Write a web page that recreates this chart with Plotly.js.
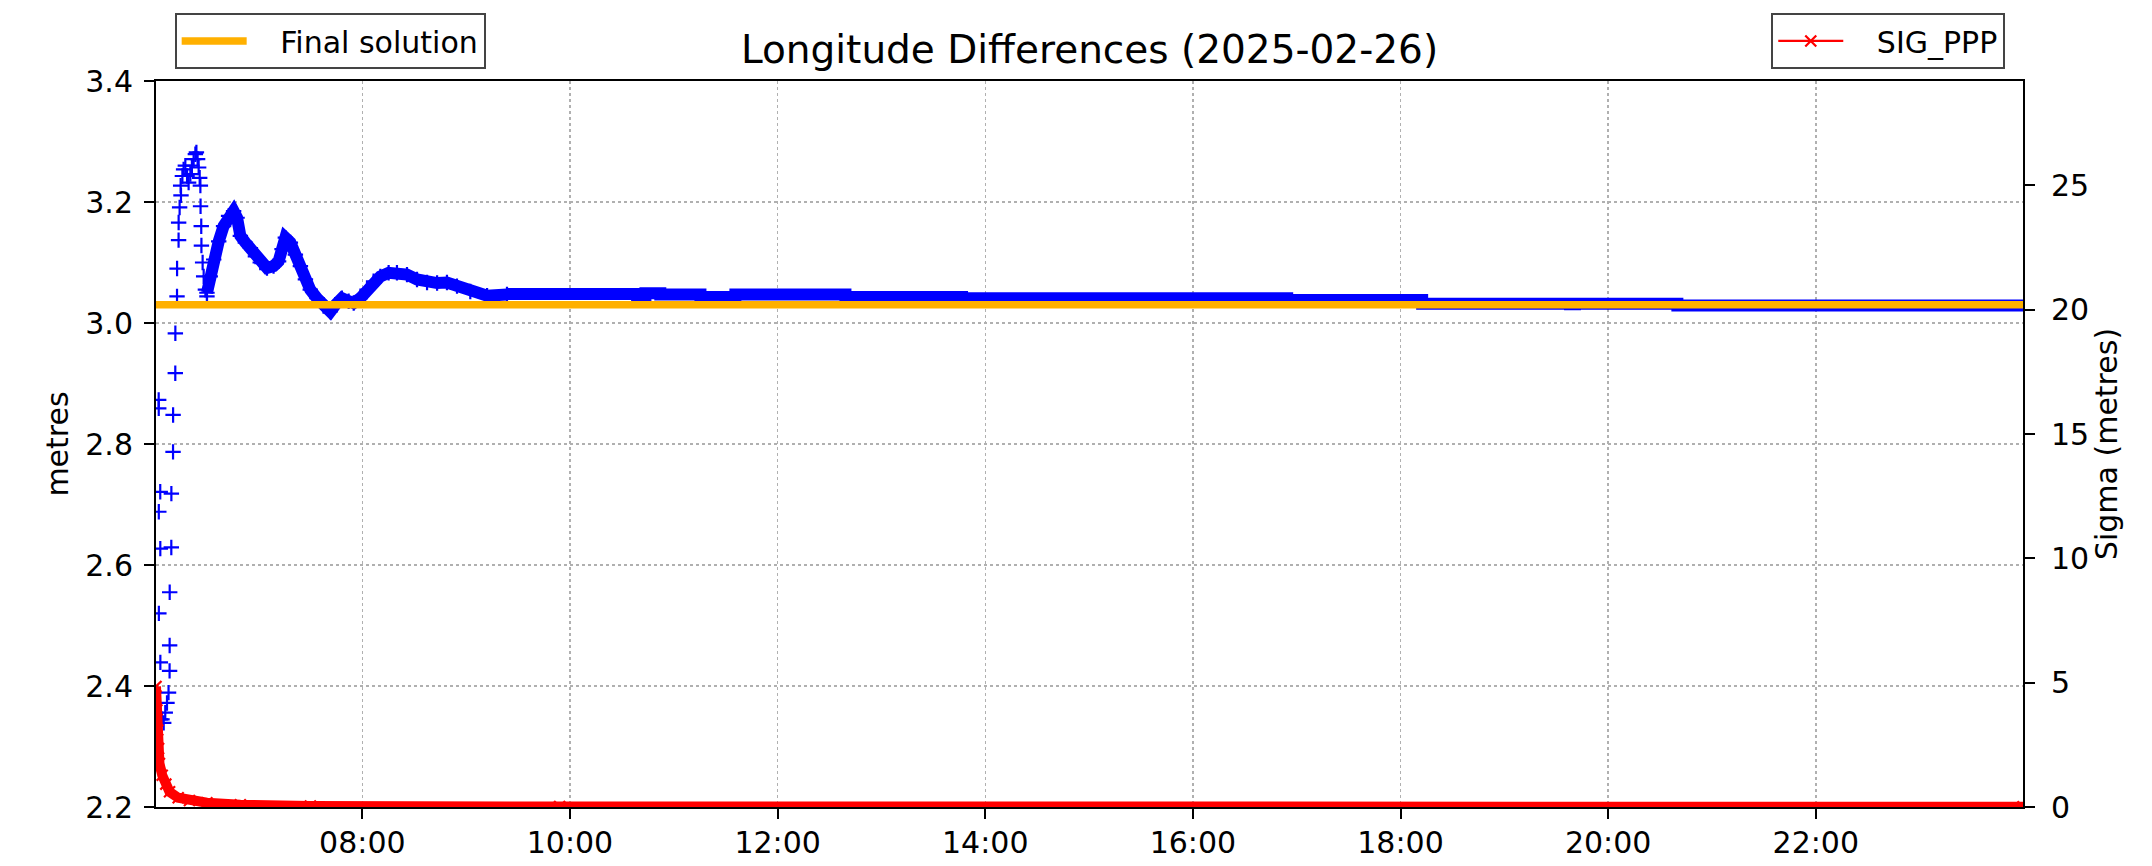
<!DOCTYPE html>
<html>
<head>
<meta charset="utf-8">
<script src="https://cdn.plot.ly/plotly-3.0.1.min.js"></script>
<style>
  html, body { margin: 0; padding: 0; background: #ffffff; }
  #chart { width: 2152px; height: 866px; }
</style>
</head>
<body>
<div id="chart"></div>
<script>
// ---- data -------------------------------------------------------------
const DAY = '2025-02-26';
const FINAL_SOLUTION = 3.030;   // metres

// PPP longitude difference (metres): first, scattered epochs
const earlyEpochs = [
  '06:02:18','06:02:20','06:02:22','06:02:24','06:03:12','06:03:14','06:03:16','06:03:18',
  '06:04:12','06:05:12','06:06:06','06:07:06','06:08:00','06:08:36','06:08:38','06:08:40',
  '06:09:36','06:09:38','06:10:36','06:10:38','06:11:54','06:11:56','06:12:54','06:12:56',
  '06:13:48','06:13:50','06:14:24','06:15:00','06:15:12','06:16:00','06:16:42','06:17:42',
  '06:18:42','06:19:36','06:20:36','06:21:30','06:22:30','06:23:30','06:24:06','06:24:48',
  '06:25:24','06:26:00','06:26:24','06:26:30','06:26:54','06:27:00','06:27:42','06:28:18',
  '06:29:18','06:30:12'
];
const earlyDiff = [
  2.873, 2.859, 2.688, 2.520, 2.721, 2.627, 2.439, 2.345,
  2.345, 2.339, 2.356, 2.372, 2.389, 2.425, 2.467, 2.555,
  2.629, 2.718, 2.787, 2.848, 2.917, 2.983, 3.044, 3.090,
  3.137, 3.166, 3.191, 3.227, 3.211, 3.243, 3.254, 3.260,
  3.243, 3.232, 3.246, 3.260, 3.271, 3.279, 3.282, 3.271,
  3.257, 3.240, 3.227, 3.193, 3.160, 3.128, 3.100, 3.077,
  3.055, 3.044
];

// PPP longitude difference (metres): converging section, every epoch plotted
const curveEpochs = [
  '06:30:12','06:32:06','06:34:06','06:37:00','06:39:48','06:42:42','06:45:36','06:47:36',
  '06:49:30','06:52:24','06:55:18','06:58:12','07:01:00','07:04:54','07:08:42','07:11:36',
  '07:13:36','07:15:30','07:18:24','07:21:18','07:24:12','07:27:06','07:29:54','07:33:48',
  '07:37:36','07:41:30','07:44:24','07:48:12','07:52:06','07:55:00','07:58:48','08:02:42',
  '08:06:30','08:10:24','08:15:12','08:20:00','08:25:48','08:31:36','08:37:24','08:43:12',
  '08:48:54','08:54:42','09:02:24','09:12:06','09:23:36'
];
const curveDiff = [
  3.050, 3.077, 3.105, 3.135, 3.160, 3.177, 3.185, 3.174,
  3.144, 3.133, 3.124, 3.110, 3.100, 3.091, 3.094, 3.102,
  3.122, 3.141, 3.133, 3.113, 3.094, 3.072, 3.055, 3.041,
  3.028, 3.019, 3.030, 3.041, 3.036, 3.033, 3.041, 3.055,
  3.069, 3.077, 3.083, 3.083, 3.080, 3.072, 3.067, 3.066,
  3.067, 3.061, 3.052, 3.045, 3.047
];

// PPP longitude difference (metres): settled section, each value holds to the next epoch
const stepEpochs = [
  '09:23:36','10:38:48','10:43:36','10:52:12','11:15:24','11:35:36','12:39:12','13:46:36',
  '16:54:30','18:12:30','19:38:00','19:40:48','20:40:00','23:59:45'
];
const stepDiff = [
  3.048, 3.046, 3.049, 3.047, 3.043, 3.047, 3.043, 3.041,
  3.038, 3.032, 3.031, 3.032, 3.029, 3.029
];

// SIG_PPP formal sigma (metres)
const sigEpochs = [
  '06:00:45','06:01:15','06:01:45','06:02:15','06:02:45','06:04:20','06:06:25','06:08:35',
  '06:13:35','06:20:05','06:30:10','06:49:30','07:30:00','09:54:00','23:59:45'
];
const sigValues = [
  4.85, 3.90, 3.10, 2.35, 1.75, 1.28, 0.92, 0.61,
  0.37, 0.26, 0.17, 0.09, 0.04, 0.02, 0.01
];

const xTickLabels = ['08:00','10:00','12:00','14:00','16:00','18:00','20:00','22:00'];

// ---- helpers ------------------------------------------------------------
const stamp = t => DAY + ' ' + t;
const FONT = 'DejaVu Sans, Liberation Sans, sans-serif';
const BLUE = '#0000ff';
const RED = '#ff0000';
const ORANGE = '#ffb000';
const LEGEND_GAP = '\u00a0\u00a0\u00a0';   // breathing room between legend line and label

const crossMarker = { symbol: 'cross-thin', size: 11, color: BLUE, line: { color: BLUE, width: 2.2 } };

const traces = [
  {
    x: earlyEpochs.map(stamp), y: earlyDiff,
    type: 'scatter', mode: 'markers', marker: crossMarker,
    showlegend: false, hoverinfo: 'skip'
  },
  {
    x: curveEpochs.map(stamp), y: curveDiff,
    type: 'scatter', mode: 'lines+markers', marker: crossMarker,
    line: { color: BLUE, width: 12 },
    showlegend: false, hoverinfo: 'skip'
  },
  {
    x: stepEpochs.map(stamp), y: stepDiff,
    type: 'scatter', mode: 'lines', line: { color: BLUE, width: 12, shape: 'hv' },
    showlegend: false, hoverinfo: 'skip'
  },
  {
    x: [stamp(sigEpochs[0]), stamp(sigEpochs[sigEpochs.length - 1])],
    y: [FINAL_SOLUTION, FINAL_SOLUTION],
    type: 'scatter', mode: 'lines', name: LEGEND_GAP + 'Final solution',
    line: { color: ORANGE, width: 7.5 }, legend: 'legend'
  },
  {
    x: sigEpochs.map(stamp), y: sigValues, yaxis: 'y2',
    type: 'scatter', mode: 'lines', line: { color: RED, width: 10 },
    showlegend: false, hoverinfo: 'skip'
  },
  {
    x: sigEpochs.map(stamp), y: sigValues, yaxis: 'y2',
    type: 'scatter', mode: 'lines+markers', name: LEGEND_GAP + 'SIG_PPP',
    line: { color: RED, width: 2.2 },
    marker: { symbol: 'x-thin', size: 11, color: RED, line: { color: RED, width: 2.2 } },
    legend: 'legend2'
  }
];

const axisCommon = {
  showline: true, linecolor: '#000000', linewidth: 2,
  ticks: 'outside', ticklen: 10, tickwidth: 2, tickcolor: '#000000',
  tickfont: { family: FONT, size: 30, color: '#000000' },
  zeroline: false
};

const layout = {
  width: 2152, height: 866,
  margin: { l: 156, r: 129, t: 81, b: 59, pad: 0 },
  paper_bgcolor: '#ffffff', plot_bgcolor: '#ffffff',
  font: { family: FONT, size: 30, color: '#000000' },
  title: {
    text: 'Longitude Differences (2025-02-26)',
    font: { family: FONT, size: 39, color: '#000000' },
    x: 0.5, xref: 'paper', xanchor: 'center',
    y: 0.9425, yref: 'container', yanchor: 'middle'
  },
  xaxis: Object.assign({}, axisCommon, {
    type: 'date',
    range: [stamp(sigEpochs[0]), stamp(sigEpochs[sigEpochs.length - 1])],
    tickmode: 'array',
    tickvals: xTickLabels.map(stamp),
    ticktext: xTickLabels,
    mirror: true,
    showgrid: true, gridcolor: '#b0b0b0', gridwidth: 1.5, griddash: 'dot',
    ticklabelstandoff: -2
  }),
  yaxis: Object.assign({}, axisCommon, {
    range: [2.2, 3.4], dtick: 0.2, tick0: 2.2, tickformat: '.1f',
    showgrid: true, gridcolor: '#b0b0b0', gridwidth: 1.5, griddash: 'dot',
    ticklabelstandoff: 5,
    title: { text: 'metres', font: { family: FONT, size: 30 }, standoff: 8 }
  }),
  yaxis2: Object.assign({}, axisCommon, {
    overlaying: 'y', side: 'right',
    range: [0, 29.2], dtick: 5, tick0: 0,
    showgrid: false,
    ticklabelstandoff: 10,
    title: { text: 'Sigma (metres)', font: { family: FONT, size: 30 }, standoff: 3 }
  }),
  legend: {
    x: 0.010, xref: 'paper', xanchor: 'left',
    y: 1.0937, yref: 'paper', yanchor: 'top',
    bgcolor: '#ffffff', bordercolor: '#444444', borderwidth: 2,
    font: { family: FONT, size: 30, color: '#000000' },
    itemwidth: 65
  },
  legend2: {
    x: 0.9905, xref: 'paper', xanchor: 'right',
    y: 1.0937, yref: 'paper', yanchor: 'top',
    bgcolor: '#ffffff', bordercolor: '#444444', borderwidth: 2,
    font: { family: FONT, size: 30, color: '#000000' },
    itemwidth: 65
  },
  hovermode: false
};

Plotly.newPlot('chart', traces, layout, { staticPlot: true, displayModeBar: false });
</script>
</body>
</html>
